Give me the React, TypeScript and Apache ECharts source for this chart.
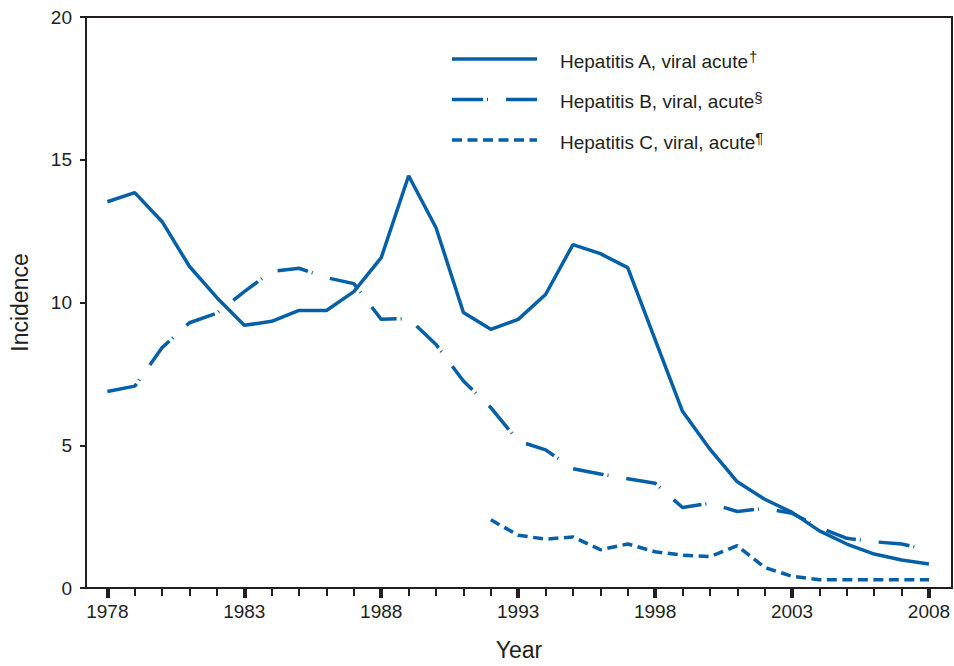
import React, { useEffect, useRef } from "react";
import * as echarts from "echarts";

const years: number[] = [];
for (let y = 1978; y <= 2008; y++) years.push(y);

const hepA = [13.53, 13.85, 12.83, 11.26, 10.17, 9.2, 9.34, 9.72, 9.72, 10.38, 11.57, 14.44, 12.62, 9.65, 9.06, 9.41, 10.28, 12.03, 11.71, 11.22, 8.7, 6.19, 4.86, 3.72, 3.11, 2.65, 2.0, 1.54, 1.19, 0.98, 0.84];
const hepB = [6.88, 7.07, 8.42, 9.29, 9.63, 10.38, 11.09, 11.2, 10.87, 10.66, 9.41, 9.44, 8.53, 7.25, 6.32, 5.15, 4.84, 4.18, 3.99, 3.83, 3.67, 2.82, 2.97, 2.68, 2.79, 2.62, 2.12, 1.74, 1.62, 1.54, 1.34];
const hepCYears = [1992, 1993, 1994, 1995, 1996, 1997, 1998, 1999, 2000, 2001, 2002, 2003, 2004, 2005, 2006, 2007, 2008];
const hepC = [2.39, 1.85, 1.71, 1.79, 1.34, 1.54, 1.27, 1.15, 1.1, 1.48, 0.72, 0.41, 0.29, 0.29, 0.29, 0.29, 0.29];

const seriesNames = ["Hepatitis A, viral acute", "Hepatitis B, viral, acute", "Hepatitis C, viral, acute"];
const footnoteMarks = ["†", "§", "¶"];
const labelYears = [1978, 1983, 1988, 1993, 1998, 2003, 2008];
const yTicks = [0, 5, 10, 15, 20];

const BLUE = "#0560a8";
const INK = "#231f20";
const FONT = "'Liberation Sans', Arial, Helvetica, sans-serif";
const LINE_W = 3.5;
const DASHES: (number[] | null)[] = [null, [31, 4, 1, 18], [10, 5.5]];

export default function App() {
  const ref = useRef<HTMLDivElement>(null);
  useEffect(() => {
    if (!ref.current) return;
    const chart = echarts.init(ref.current, undefined, { renderer: "svg", width: 954, height: 666 });
    const xMin = 1977.22;
    const xMax = 2008.84;

    const legendRows = [60, 100.5, 141];
    const legendGraphics: any[] = [];
    seriesNames.forEach((name, i) => {
      const cy = legendRows[i];
      legendGraphics.push({
        type: "line",
        shape: { x1: 452, y1: cy - 1, x2: 537, y2: cy - 1 },
        style: {
          stroke: BLUE,
          lineWidth: LINE_W,
          lineDash: DASHES[i] || undefined,
          lineCap: "butt",
        },
        silent: true,
      });
      legendGraphics.push({
        type: "text",
        x: 560,
        y: cy + 1,
        style: {
          text: `{t|${name}}{s|${footnoteMarks[i]}}`,
          verticalAlign: "middle",
          align: "left",
          rich: {
            t: { fontFamily: FONT, fontSize: 19, fill: INK, color: INK, lineHeight: 22 },
            s: { fontFamily: FONT, fontSize: 15, fill: INK, color: INK, lineHeight: 22, padding: [0, 0, 9, 0] },
          },
        },
        silent: true,
      });
    });

    chart.setOption({
      animation: false,
      backgroundColor: "#ffffff",
      textStyle: { fontFamily: FONT, color: INK },
      grid: {
        left: 86,
        width: 866,
        top: 17,
        height: 572,
        show: true,
        borderColor: INK,
        borderWidth: 2,
        backgroundColor: "transparent",
      },
      graphic: legendGraphics,
      xAxis: [
        {
          type: "value",
          min: xMin,
          max: xMax,
          name: "Year",
          nameLocation: "middle",
          nameGap: 50,
          nameTextStyle: { fontFamily: FONT, fontSize: 23, color: INK },
          axisLine: { show: true, onZero: false, lineStyle: { color: INK, width: 2 } },
          axisTick: {
            show: true,
            customValues: years,
            length: 8,
            lineStyle: { color: INK, width: 2 },
          },
          axisLabel: {
            customValues: labelYears,
            formatter: (v: number) => String(v),
            fontFamily: FONT,
            fontSize: 19,
            color: INK,
            margin: 14,
          },
          splitLine: { show: false },
        },
        {
          type: "value",
          min: xMin,
          max: xMax,
          position: "bottom",
          axisLine: { show: false },
          axisTick: {
            show: true,
            customValues: labelYears,
            length: 10,
            lineStyle: { color: INK, width: 4 },
          },
          axisLabel: { show: false },
          splitLine: { show: false },
        },
      ],
      yAxis: {
        type: "value",
        min: 0,
        max: 20,
        interval: 5,
        name: "Incidence",
        nameLocation: "middle",
        nameGap: 55,
        nameRotate: 90,
        nameTextStyle: { fontFamily: FONT, fontSize: 23, color: INK },
        axisLine: { show: true, lineStyle: { color: INK, width: 2 } },
        axisTick: { show: true, length: 6, lineStyle: { color: INK, width: 2 } },
        axisLabel: {
          fontFamily: FONT,
          fontSize: 19,
          color: INK,
          margin: 14,
          formatter: (v: number) => (yTicks.includes(v) ? String(v) : ""),
        },
        splitLine: { show: false },
      },
      series: [
        {
          name: seriesNames[0],
          type: "line",
          xAxisIndex: 0,
          symbol: "none",
          data: years.map((y, i) => [y, hepA[i]]),
          lineStyle: { color: BLUE, width: LINE_W, type: "solid", cap: "butt" },
          itemStyle: { color: BLUE },
        },
        {
          name: seriesNames[1],
          type: "line",
          xAxisIndex: 0,
          symbol: "none",
          data: years.map((y, i) => [y, hepB[i]]),
          lineStyle: { color: BLUE, width: LINE_W, type: DASHES[1], cap: "butt" },
          itemStyle: { color: BLUE },
        },
        {
          name: seriesNames[2],
          type: "line",
          xAxisIndex: 0,
          symbol: "none",
          data: hepCYears.map((y, i) => [y, hepC[i]]),
          lineStyle: { color: BLUE, width: LINE_W, type: DASHES[2], cap: "butt" },
          itemStyle: { color: BLUE },
        },
      ],
    });
    return () => chart.dispose();
  }, []);
  return (
    <div
      ref={ref}
      style={{
        position: "fixed",
        left: 0,
        top: 0,
        width: 954,
        height: 666,
        overflow: "hidden",
        background: "#fff",
      }}
    />
  );
}
